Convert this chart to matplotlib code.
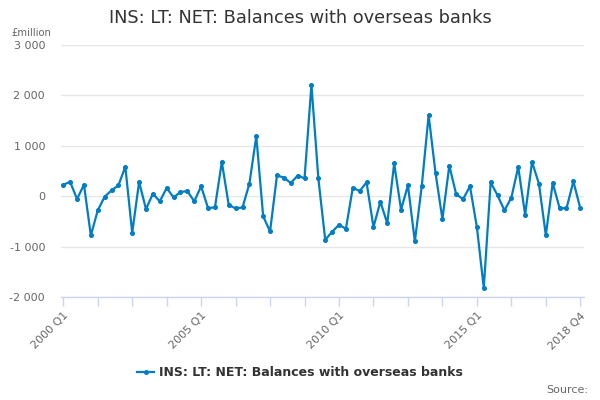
import numpy as np
import matplotlib
matplotlib.use("Agg")
import matplotlib.pyplot as plt
from matplotlib.ticker import FixedLocator, FuncFormatter

# quarterly values, 2000 Q1 .. 2018 Q4 (£million)
values = [
    232, 285, -53, 232, -775, -278, -7, 119, 218, 589,
    -722, 285, -252, 53, -99, 166, -20, 86, 106, -99,
    199, -232, -219, 682, -172, -238, -219, 252, 1192, -397,
    -695, 417, 371, 265, 411, 358, 2212, 358, -861, -702,
    -563, -642, 172, 106, 278, -609, -106, -533, 652, -262,
    219, -894, 199, 1609, 464, -450, 609, 40, -53, 199,
    -609, -1815, 278, 20, -278, -26, 583, -364, 682, 252,
    -768, 265, -232, -238, 298, -238,
]
quarters = ["%d Q%d" % (2000 + i // 4, i % 4 + 1) for i in range(len(values))]
label_idx = [0, 20, 40, 60, 75]
y_ticks = [-2000, -1000, 0, 1000, 2000, 3000]
series_name = "INS: LT: NET: Balances with overseas banks"

line_col = "#007dc3"
axis_col = "#ccd6eb"
text_col = "#666666"

fig = plt.figure(figsize=(6, 4), dpi=100)
ax = fig.add_axes([61 / 600, 1 - 297.3 / 400, 523 / 600, (297.3 - 45) / 400])

x = np.arange(len(values))
ax.plot(x, values, color=line_col, lw=1.6, marker="o", ms=2.6, label=series_name,
        zorder=3)

ax.set_xlim(-0.33, 75.54)
ax.set_ylim(-2000, 3000)
ax.set_yticks(y_ticks)
ax.yaxis.set_major_formatter(FuncFormatter(lambda v, p: "{:,.0f}".format(v).replace(",", " ")))
ax.grid(axis="y", color="#e6e6e6", lw=1)
ax.set_axisbelow(True)

ax.xaxis.set_major_locator(FixedLocator(list(range(0, 76, 5))))
ax.set_xticklabels([quarters[i] if i in label_idx else "" for i in range(0, 76, 5)],
                   rotation=45, ha="right", va="top", rotation_mode="anchor")

for s in ["top", "right", "left"]:
    ax.spines[s].set_visible(False)
ax.spines["bottom"].set_color(axis_col)
ax.spines["bottom"].set_linewidth(1)
ax.tick_params(axis="x", colors=axis_col, length=6.5, width=1, labelcolor=text_col,
               labelsize=8, pad=3)
ax.tick_params(axis="y", length=0, labelcolor=text_col, labelsize=8, pad=11.5)

fig.text(0.5, 1 - 18 / 400, series_name, ha="center", va="center",
         fontsize=12.8, color="#333333")
fig.text(11 / 600, 1 - 33 / 400, "£million", ha="left", va="center",
         fontsize=7.2, color=text_col)
fig.text(588 / 600, 1 - 390 / 400, "Source:", ha="right", va="center",
         fontsize=8, color=text_col)

leg = fig.legend(loc="center", bbox_to_anchor=(0.5, 1 - 373 / 400), frameon=False,
                 handlelength=1.4, handletextpad=0.4,
                 prop={"weight": "bold", "size": 9})
for t in leg.get_texts():
    t.set_color("#333333")

fig.savefig("out.png", dpi=100)
